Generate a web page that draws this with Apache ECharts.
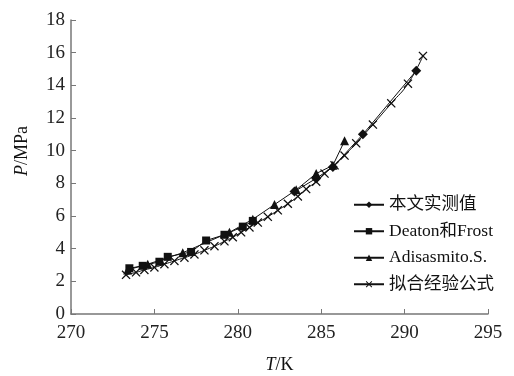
<!DOCTYPE html>
<html>
<head>
<meta charset="utf-8">
<script src="https://cdn.jsdelivr.net/npm/echarts@6/dist/echarts.min.js"></script>
<style>
  html, body { margin: 0; padding: 0; background: #fff; }
  #chart { width: 514px; height: 376px; }
</style>
</head>
<body>
<div id="chart"></div>
<script>
// 数据 (T/K, P/MPa)
var measured = [[283.4, 7.5], [284.7, 8.3], [285.7, 9.0], [287.5, 11.0], [290.7, 14.9]];
var deaton = [[273.5, 2.8], [274.3, 2.95], [275.3, 3.2], [275.8, 3.5], [277.2, 3.8],
              [278.1, 4.5], [279.2, 4.85], [280.3, 5.35], [280.9, 5.7]];
var adisasmito = [[273.4, 2.7], [274.6, 3.05], [276.7, 3.75], [279.5, 5.0], [280.9, 5.8],
                  [282.2, 6.7], [283.5, 7.6], [284.7, 8.6], [285.7, 9.1], [286.4, 10.6]];
var fitted = [[273.3, 2.4], [273.9, 2.55], [274.4, 2.7], [275.0, 2.85], [275.6, 3.05],
              [276.2, 3.25], [276.8, 3.45], [277.4, 3.65], [278.0, 3.9], [278.6, 4.15],
              [279.2, 4.45], [279.7, 4.7], [280.2, 5.0], [280.7, 5.3], [281.2, 5.6],
              [281.8, 5.95], [282.4, 6.35], [283.0, 6.75], [283.6, 7.2], [284.1, 7.65],
              [284.7, 8.1], [285.2, 8.6], [285.8, 9.1], [286.4, 9.7], [287.1, 10.45],
              [288.1, 11.6], [289.2, 12.9], [290.2, 14.1], [291.1, 15.8]];
var names = ['本文实测值', 'Deaton和Frost', 'Adisasmito.S.', '拟合经验公式'];

var chart = echarts.init(document.getElementById('chart'));
var serif = 'Liberation Serif, DejaVu Serif, Noto Sans CJK SC, serif';
var crossPath = 'path://M0,1L1,0L5,4L9,0L10,1L6,5L10,9L9,10L5,6L1,10L0,9L4,5Z';

function mkSeries(name, data, symbol, size, smooth) {
    return {
        name: name,
        type: 'line',
        data: data,
        symbol: symbol,
        symbolSize: size,
        smooth: smooth,
        showAllSymbol: true,
        lineStyle: { color: '#111', width: 1 },
        itemStyle: { color: '#111' }
    };
}

var option = {
    animation: false,
    backgroundColor: '#fff',
    grid: { left: 71, right: 26, top: 20, bottom: 62, outerBoundsMode: 'none' },
    legend: {
        orient: 'vertical',
        left: 348,
        top: 191,
        itemGap: 9,
        itemWidth: 30,
        itemHeight: 8,
        textStyle: { fontFamily: serif, fontSize: 17.5, color: '#111' },
        data: names
    },
    xAxis: {
        type: 'value',
        min: 270, max: 295, interval: 5,
        name: '{i|T}/K',
        nameLocation: 'middle',
        nameGap: 42,
        nameTextStyle: {
            fontFamily: serif, fontSize: 18, color: '#111',
            rich: { i: { fontFamily: serif, fontSize: 18, fontStyle: 'italic', color: '#111' } }
        },
        axisLine: { lineStyle: { color: '#777', width: 1.5 } },
        axisTick: { inside: true, length: 5, lineStyle: { color: '#777' } },
        axisLabel: { fontFamily: serif, fontSize: 19, color: '#222', margin: 10 },
        splitLine: { show: false }
    },
    yAxis: {
        type: 'value',
        min: 0, max: 18, interval: 2,
        name: '{i|P}/MPa',
        nameLocation: 'middle',
        nameGap: 40,
        nameTextStyle: {
            fontFamily: serif, fontSize: 18, color: '#111',
            padding: [0, 0, 0, 32],
            rich: { i: { fontFamily: serif, fontSize: 18, fontStyle: 'italic', color: '#111' } }
        },
        axisLine: { show: true, lineStyle: { color: '#777', width: 1.5 } },
        axisTick: { show: true, inside: true, length: 5, lineStyle: { color: '#777' } },
        axisLabel: { fontFamily: serif, fontSize: 19, color: '#222', margin: 6 },
        splitLine: { show: false }
    },
    series: [
        mkSeries(names[0], measured, 'diamond', 10, false),
        mkSeries(names[1], deaton, 'rect', 8, false),
        mkSeries(names[2], adisasmito, 'triangle', 9, false),
        mkSeries(names[3], fitted, crossPath, 9, true)
    ]
};
chart.setOption(option);
</script>
</body>
</html>
